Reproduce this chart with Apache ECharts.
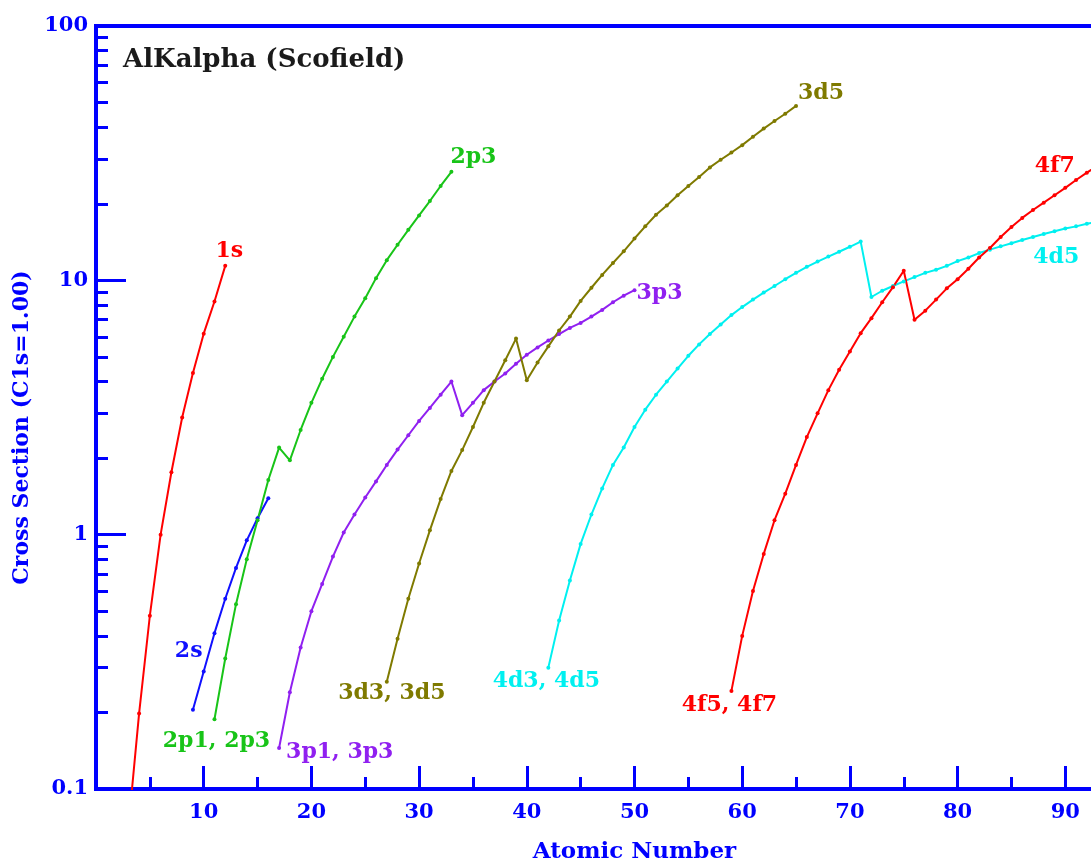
<!DOCTYPE html>
<html>
<head>
<meta charset="utf-8">
<script src="https://cdn.jsdelivr.net/npm/echarts@6/dist/echarts.min.js"></script>
<style>
  html, body { margin: 0; padding: 0; background: #ffffff; }
  #chart { width: 1091px; height: 864px; }
</style>
</head>
<body>
<div id="chart"></div>
<script>
// ---------------- DATA ----------------
const chartTitle = 'AlKalpha (Scofield)';
const xAxisTitle = 'Atomic Number';
const yAxisTitle = 'Cross Section (C1s=1.00)';
const yMinorTickValues = [0.2, 0.3, 0.4, 0.5, 0.6, 0.7, 0.8, 0.9, 2, 3, 4, 5, 6, 7, 8, 9, 20, 30, 40, 50, 60, 70, 80, 90];

// atomic numbers (first Z of each curve, consecutive integers follow)
const z1sStart = 3;
const v1s = [0.07, 0.198, 0.48, 1.0, 1.76, 2.89, 4.32, 6.17, 8.26, 11.4];

const z2sStart = 9;
const v2s = [0.205, 0.29, 0.41, 0.56, 0.74, 0.95, 1.16, 1.39];

const z2pStart = 11;
const v2p = [0.188, 0.326, 0.533, 0.80, 1.14, 1.64, 2.2, 1.96, 2.58, 3.3,
             4.1, 5.0, 6.0, 7.2, 8.5, 10.2, 12.0, 13.8, 15.8, 18.0,
             20.5, 23.5, 26.7];

const z3pStart = 17;
const v3p = [0.145, 0.24, 0.36, 0.50, 0.64, 0.82, 1.02, 1.2, 1.4, 1.62,
             1.88, 2.16, 2.46, 2.8, 3.15, 3.55, 4.0, 2.95, 3.3, 3.7,
             4.0, 4.3, 4.7, 5.1, 5.45, 5.8, 6.15, 6.5, 6.8, 7.2,
             7.65, 8.2, 8.7, 9.15];

const z3dStart = 27;
const v3d = [0.264, 0.39, 0.56, 0.77, 1.04, 1.38, 1.78, 2.15, 2.65, 3.3,
             4.0, 4.85, 5.9, 4.05, 4.75, 5.5, 6.35, 7.2, 8.3, 9.35,
             10.5, 11.7, 13.0, 14.6, 16.3, 18.1, 19.7, 21.6, 23.5, 25.5,
             27.8, 29.8, 31.8, 34.0, 36.7, 39.5, 42.3, 45.2, 48.5];

const z4dStart = 42;
const v4d = [0.30, 0.46, 0.66, 0.92, 1.2, 1.52, 1.88, 2.2, 2.65, 3.1,
             3.55, 4.0, 4.5, 5.05, 5.6, 6.15, 6.7, 7.3, 7.85, 8.4,
             8.95, 9.5, 10.1, 10.7, 11.3, 11.85, 12.4, 12.95, 13.55, 14.2,
             8.6, 9.1, 9.5, 9.9, 10.3, 10.7, 11.0, 11.4, 11.9, 12.3,
             12.8, 13.2, 13.6, 14.0, 14.4, 14.8, 15.2, 15.6, 16.0, 16.3,
             16.7, 17.0];

const z4fStart = 59;
const v4f = [0.243, 0.40, 0.60, 0.84, 1.14, 1.45, 1.88, 2.42, 3.0, 3.7,
             4.45, 5.25, 6.2, 7.1, 8.2, 9.4, 10.9, 7.0, 7.6, 8.4,
             9.3, 10.1, 11.1, 12.3, 13.4, 14.8, 16.2, 17.6, 18.9, 20.2,
             21.6, 23.1, 24.8, 26.5, 28.2];

// curve labels: [text, Z of the point it is attached to]
const labels1s = [['1s', 12]];
const labels2s = [['2s', 10]];
const labels2p = [['2p1, 2p3', 11], ['2p3', 33]];
const labels3p = [['3p1, 3p3', 17], ['3p3', 50]];
const labels3d = [['3d3, 3d5', 27], ['3d5', 65]];
const labels4d = [['4d3, 4d5', 42], ['4d5', 90]];
const labels4f = [['4f5, 4f7', 59], ['4f7', 92]];

// ---------------- STYLE ----------------
const BLUE = '#0000ff';
const FONT = 'DejaVu Serif';

// label placement (style only): keyed by label text
const labelPlacement = {
  '1s':       { position: 'inside', offset: [4, -15] },
  '2s':       { position: 'inside', offset: [-15, -20] },
  '2p1, 2p3': { position: 'inside', offset: [2, 22] },
  '2p3':      { position: 'right', distance: 0, offset: [-3, -15] },
  '3p1, 3p3': { position: 'right', distance: 5, offset: [0, 4] },
  '3p3':      { position: 'right', distance: 0, offset: [0, 3] },
  '3d3, 3d5': { position: 'inside', offset: [5, 12] },
  '3d5':      { position: 'right', distance: 0, offset: [0, -13] },
  '4d3, 4d5': { position: 'inside', offset: [-2, 14] },
  '4d5':      { position: 'inside', offset: [-9, 29] },
  '4f5, 4f7': { position: 'inside', offset: [-2, 14] },
  '4f7':      { position: 'inside', offset: [-32, -6] }
};

function buildData(zStart, vals, labs, color) {
  const data = vals.map((v, i) => [zStart + i, v]);
  labs.forEach(([text, z]) => {
    const idx = z - zStart;
    const p = labelPlacement[text];
    data[idx] = {
      value: data[idx],
      label: Object.assign({
        show: true,
        formatter: text,
        color: color,
        fontFamily: FONT,
        fontWeight: 'bold',
        fontSize: 22
      }, p)
    };
  });
  return data;
}

function makeSeries(name, zStart, vals, labs, color) {
  return {
    name: name,
    type: 'line',
    data: buildData(zStart, vals, labs, color),
    symbol: 'circle',
    symbolSize: 4,
    showAllSymbol: true,
    lineStyle: { color: color, width: 2 },
    itemStyle: { color: color },
    label: { show: false },
    emphasis: { disabled: true },
    clip: true,
    z: 3
  };
}

const chart = echarts.init(document.getElementById('chart'), null, { renderer: 'canvas' });

const option = {
  animation: false,
  backgroundColor: '#ffffff',
  title: {
    text: chartTitle,
    left: 123,
    top: 47,
    padding: 0,
    textStyle: { fontFamily: FONT, fontWeight: 'bold', fontSize: 26, color: '#1a1a1a' }
  },
  grid: {
    left: 96,
    top: 26,
    width: 1077,
    height: 763,
    outerBoundsMode: 'none',
    containLabel: false,
    show: true,
    borderColor: BLUE,
    borderWidth: 4,
    backgroundColor: 'transparent'
  },
  xAxis: {
    type: 'value',
    min: 0,
    max: 100,
    interval: 10,
    name: xAxisTitle,
    nameLocation: 'middle',
    nameGap: 52,
    nameTextStyle: { fontFamily: FONT, fontWeight: 'bold', fontSize: 23, color: BLUE },
    axisLine: { show: true, lineStyle: { color: BLUE, width: 4 } },
    axisTick: { show: true, inside: true, length: 23, lineStyle: { color: BLUE, width: 3 } },
    minorTick: { show: true, splitNumber: 2, length: 12, lineStyle: { color: BLUE, width: 3 } },
    axisLabel: {
      color: BLUE, fontFamily: FONT, fontWeight: 'bold', fontSize: 21, margin: 13,
      formatter: v => (v === 0 ? '' : String(v))
    },
    splitLine: { show: false },
    minorSplitLine: { show: false }
  },
  yAxis: [
    {
      type: 'log',
      logBase: 10,
      min: 0.1,
      max: 100,
      position: 'left',
      name: yAxisTitle,
      nameLocation: 'middle',
      nameRotate: 90,
      nameGap: 58,
      nameTextStyle: { fontFamily: FONT, fontWeight: 'bold', fontSize: 22, color: BLUE, padding: [0, 40, 0, 0] },
      axisLine: { show: true, lineStyle: { color: BLUE, width: 4 } },
      axisTick: { show: true, inside: true, length: 30, lineStyle: { color: BLUE, width: 3 } },
      axisLabel: { color: BLUE, fontFamily: FONT, fontWeight: 'bold', fontSize: 21, margin: 8 },
      splitLine: { show: false },
      minorTick: { show: false }
    },
    {
      type: 'log',
      logBase: 10,
      min: 0.1,
      max: 100,
      position: 'left',
      axisLine: { show: false },
      axisTick: { show: true, inside: true, length: 12, customValues: yMinorTickValues, lineStyle: { color: BLUE, width: 3 } },
      axisLabel: { show: false },
      splitLine: { show: false }
    }
  ],
  series: [
    makeSeries('1s', z1sStart, v1s, labels1s, '#ff0000'),
    makeSeries('2s', z2sStart, v2s, labels2s, '#1010ff'),
    makeSeries('2p', z2pStart, v2p, labels2p, '#18c418'),
    makeSeries('3p', z3pStart, v3p, labels3p, '#9020f0'),
    makeSeries('3d', z3dStart, v3d, labels3d, '#7f7a00'),
    makeSeries('4d', z4dStart, v4d, labels4d, '#00f0f0'),
    makeSeries('4f', z4fStart, v4f, labels4f, '#ff0000')
  ]
};

chart.setOption(option);
</script>
</body>
</html>
